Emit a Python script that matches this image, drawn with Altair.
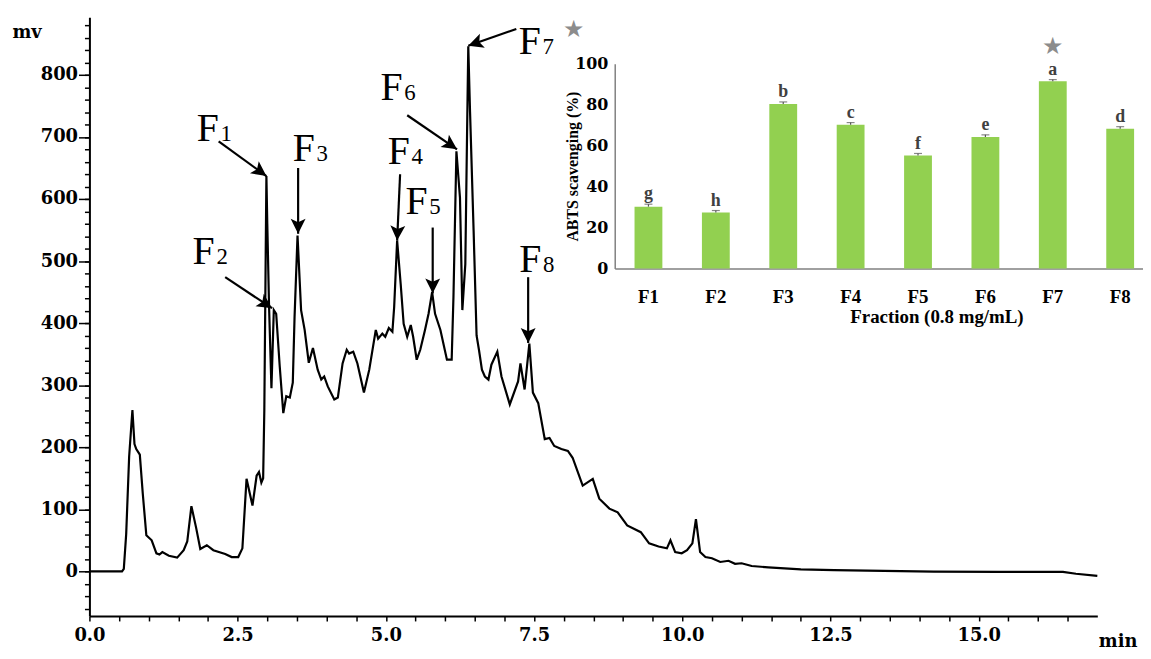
import math
import altair as alt
import pandas as pd

# ---------------- chromatogram (main plot) ----------------
time_min = [0, 0.55, 0.58, 0.62, 0.67, 0.725, 0.76, 0.79, 0.85, 0.90, 0.96, 1.05, 1.13, 1.18, 1.23,
            1.34, 1.48, 1.59, 1.65, 1.72, 1.80, 1.87, 1.98, 2.09, 2.29, 2.40, 2.51, 2.58, 2.65, 2.75,
            2.82, 2.86, 2.90, 2.93, 2.95, 2.985, 3.00, 3.03, 3.07, 3.11, 3.15, 3.21, 3.27, 3.32, 3.38,
            3.43, 3.46, 3.51, 3.57, 3.63, 3.70, 3.77, 3.85, 3.91, 3.96, 4.02, 4.13, 4.19, 4.27, 4.34,
            4.38, 4.45, 4.52, 4.63, 4.72, 4.83, 4.87, 4.94, 4.99, 5.05, 5.11, 5.14, 5.19, 5.25, 5.30,
            5.36, 5.42, 5.46, 5.52, 5.58, 5.66, 5.72, 5.78, 5.83, 5.92, 6.03, 6.11, 6.14, 6.19, 6.25,
            6.29, 6.34, 6.37, 6.39, 6.42, 6.48, 6.53, 6.57, 6.62, 6.67, 6.73, 6.78, 6.88, 6.95, 7.09,
            7.23, 7.27, 7.34, 7.42, 7.48, 7.57, 7.68, 7.76, 7.84, 7.96, 8.07, 8.15, 8.32, 8.49, 8.60,
            8.77, 8.91, 9.07, 9.30, 9.44, 9.60, 9.74, 9.80, 9.88, 9.99, 10.08, 10.17, 10.23, 10.30,
            10.39, 10.50, 10.64, 10.78, 10.89, 11.00, 11.17, 11.45, 12.00, 12.56, 13.12, 14.24, 15.35,
            16.42, 16.64, 17.0]
signal_mv = [0, 0, 4, 60, 185, 260, 205, 197, 188, 125, 58, 50, 29, 27, 31,
             25, 22, 34, 48, 105, 70, 36, 42, 34, 28, 23, 23, 37, 149, 106,
             154, 160, 143, 150, 260, 637, 560, 426, 295, 421, 415, 330, 255, 282, 280,
             304, 410, 541, 421, 389, 336, 360, 325, 309, 314, 298, 277, 280, 335, 357,
             351, 354, 335, 288, 325, 389, 375, 383, 378, 392, 386, 426, 533, 463, 399,
             378, 397, 378, 341, 357, 389, 415, 450, 415, 389, 341, 341, 442, 677, 602,
             421, 495, 709, 846, 740, 549, 380, 357, 325, 314, 309, 333, 354, 314, 269,
             306, 335, 293, 367, 288, 271, 213, 215, 202, 197, 194, 183, 138, 149, 117,
             101, 95, 74, 63, 45, 40, 37, 50, 31, 29, 34, 45, 84, 31,
             23, 21, 15, 17, 12, 13, 8.5, 6.4, 3.2, 2, 1, -0.5, -1,
             -1, -4, -7.5]

# peak annotations
peak_letter = ["F"] * 8
peak_digit = ["1", "2", "3", "4", "5", "6", "7", "8"]
label_t = [1.81, 1.74, 3.43, 5.03, 5.33, 4.91, 7.24, 7.25]
label_mv = [693, 496, 661, 656, 576, 760, 834, 482]
arrow_t0 = [2.18, 2.29, 3.52, 5.24, 5.79, 5.36, 7.20, 7.40]
arrow_mv0 = [693, 474, 650, 640, 554, 735, 874, 474]
arrow_t1 = [2.985, 3.08, 3.52, 5.19, 5.79, 6.20, 6.39, 7.40]
arrow_mv1 = [637, 424, 544, 533, 448, 680, 847, 368]
star_t = [8.17]
star_mv = [872]

# axis ticks
x_ticks = [i * 0.5 for i in range(0, 34)]
y_major = [0, 100, 200, 300, 400, 500, 600, 700, 800]
y_minor = list(range(-60, 881, 20))

# ---------------- ABTS inset ----------------
fractions = ["F1", "F2", "F3", "F4", "F5", "F6", "F7", "F8"]
abts = [30.2, 27.3, 80.4, 70.3, 55.2, 64.3, 91.5, 68.3]
abts_err = [1.2, 1.0, 1.0, 1.0, 1.0, 1.0, 0.8, 1.0]
sig_letters = ["g", "h", "b", "c", "f", "e", "a", "d"]
best_fraction = ["F7"]
abts_ticks = [0, 20, 40, 60, 80, 100]

# ---------------- layout ----------------
W, H = 1015, 603
X_DOM = [0, 17]
Y_DOM = [-72, 893]
SERIF = "Liberation Serif"
WIDE = "DejaVu Serif"

px_t = W / (X_DOM[1] - X_DOM[0])
px_mv = H / (Y_DOM[1] - Y_DOM[0])

trace_df = pd.DataFrame({"t": time_min, "mv": signal_mv})
angles = []
for a, b, c, d in zip(arrow_t0, arrow_mv0, arrow_t1, arrow_mv1):
    dx = (c - a) * px_t
    dy = -(d - b) * px_mv
    angles.append(math.degrees(math.atan2(dx, -dy)) % 360)
ann_df = pd.DataFrame({
    "letter": peak_letter, "digit": peak_digit, "lt": label_t, "lmv": label_mv,
    "t0": arrow_t0, "mv0": arrow_mv0, "t1": arrow_t1, "mv1": arrow_mv1, "ang": angles,
})
star_df = pd.DataFrame({"t": star_t, "mv": star_mv, "s": ["★"]})

xs = alt.Scale(domain=X_DOM, nice=False, zero=False)
ys = alt.Scale(domain=Y_DOM, nice=False, zero=False)

x_axis = alt.Axis(
    values=x_ticks,
    labelExpr="datum.value % 2.5 === 0 ? format(datum.value, '.1f') : ''",
    tickSize=5, tickColor="black", tickWidth=1.5, domainColor="black", domainWidth=2,
    labelFont=WIDE, labelFontSize=18, labelFontWeight="bold", labelColor="black",
    labelPadding=6, labelOverlap=False, labelFlush=False, grid=False,
    title="min", titleX=1016, titleY=31, titleAlign="left", titleBaseline="alphabetic",
    titleFont=WIDE, titleFontSize=18, titleFontWeight="bold", titleColor="black",
    orient="bottom",
)
y_axis = alt.Axis(
    values=y_major, format="d",
    tickSize=11, tickColor="black", tickWidth=1.5, domainColor="black", domainWidth=2,
    labelFont=WIDE, labelFontSize=18, labelFontWeight="bold", labelColor="black",
    labelPadding=1, labelOverlap=False, labelFlush=False, grid=False,
    title="mv", titleAngle=0, titleX=-78, titleY=20, titleAlign="left", titleBaseline="alphabetic",
    titleFont=WIDE, titleFontSize=18, titleFontWeight="bold", titleColor="black",
    orient="left",
)
y_minor_axis = alt.Axis(
    values=y_minor, tickSize=5, tickColor="black", tickWidth=1.5, domain=False,
    labels=False, grid=False, title=None, orient="left",
)

trace = alt.Chart(trace_df).mark_line(color="black", strokeWidth=2.2).encode(
    x=alt.X("t:Q", scale=xs, axis=x_axis),
    y=alt.Y("mv:Q", scale=ys, axis=y_axis),
)
minor = alt.Chart(trace_df).mark_line(opacity=0).encode(
    x=alt.X("t:Q", scale=xs, axis=None),
    y=alt.Y("mv:Q", scale=ys, axis=y_minor_axis),
)
arrow_lines = alt.Chart(ann_df).mark_rule(color="black", strokeWidth=2.2).encode(
    x=alt.X("t0:Q", scale=xs, axis=None), y=alt.Y("mv0:Q", scale=ys, axis=None),
    x2="t1:Q", y2="mv1:Q",
)
arrow_heads = alt.Chart(ann_df).mark_point(
    shape="M0,0 L-0.5,1 L0,0.78 L0.5,1 Z", size=900, filled=True, color="black", opacity=1,
).encode(
    x=alt.X("t1:Q", scale=xs, axis=None), y=alt.Y("mv1:Q", scale=ys, axis=None),
    angle=alt.Angle("ang:Q", scale=None),
)
f_text = alt.Chart(ann_df).mark_text(
    font=SERIF, fontSize=40, align="left", baseline="alphabetic", color="black",
).encode(
    x=alt.X("lt:Q", scale=xs, axis=None), y=alt.Y("lmv:Q", scale=ys, axis=None), text="letter:N",
)
d_text = alt.Chart(ann_df).mark_text(
    font=SERIF, fontSize=23, align="left", baseline="alphabetic", color="black", dx=24,
).encode(
    x=alt.X("lt:Q", scale=xs, axis=None), y=alt.Y("lmv:Q", scale=ys, axis=None), text="digit:N",
)
star_main = alt.Chart(star_df).mark_text(
    font="DejaVu Sans", fontSize=24, align="center", baseline="middle", color="#8c8c8c",
).encode(
    x=alt.X("t:Q", scale=xs, axis=None), y=alt.Y("mv:Q", scale=ys, axis=None), text="s:N",
)
main = alt.layer(trace, minor, arrow_lines, arrow_heads, f_text, d_text, star_main).resolve_axis(
    x="independent", y="independent"
)

# ---------------- inset ----------------
inset_df = pd.DataFrame({
    "frac": fractions, "abts": abts,
    "hi": [v + e for v, e in zip(abts, abts_err)],
    "lab": sig_letters,
    "star": ["★" if f in best_fraction else "" for f in fractions],
})
IN_X = [529, 1061]
IN_Y = [253, 47]
bx = alt.Scale(domain=fractions, range=IN_X, paddingInner=0.587, paddingOuter=0.213, align=0.69)
by = alt.Scale(domain=[0, 100], range=IN_Y, nice=False, zero=True)

bx_axis = alt.Axis(
    orient="bottom", offset=IN_Y[0] - H, ticks=False, domainColor="#808080", domainWidth=1.5,
    labelFont=SERIF, labelFontSize=19, labelFontWeight="bold", labelColor="black",
    labelAngle=0, labelPadding=19, grid=False,
    title="Fraction (0.8 mg/mL)", titleFont=SERIF, titleFontSize=19, titleFontWeight="bold",
    titleColor="black", titleX=853, titleY=54, titleAlign="center", titleBaseline="alphabetic",
)
by_axis = alt.Axis(
    orient="left", offset=-IN_X[0], ticks=False, domainColor="#808080", domainWidth=1.5,
    values=abts_ticks,
    labelFont=WIDE, labelFontSize=16, labelFontWeight="bold", labelColor="black",
    labelPadding=7, grid=False,
    title="ABTS scavenging (%)", titleFont=SERIF, titleFontSize=16, titleFontWeight="bold",
    titleColor="black", titleAngle=-90, titleX=-42, titleY=(IN_Y[0] + IN_Y[1]) / 2,
    titleAlign="center", titleBaseline="middle",
)

bars = alt.Chart(inset_df).mark_bar(color="#92D050").encode(
    x=alt.X("frac:N", scale=bx, axis=bx_axis, sort=fractions),
    y=alt.Y("abts:Q", scale=by, axis=by_axis),
)
err_rule = alt.Chart(inset_df).mark_rule(color="#555555", strokeWidth=1.2).encode(
    x=alt.X("frac:N", scale=bx, axis=None, sort=fractions),
    y=alt.Y("abts:Q", scale=by, axis=None), y2="hi:Q",
)
err_cap = alt.Chart(inset_df).mark_tick(color="#555555", size=8, thickness=1.2).encode(
    x=alt.X("frac:N", scale=bx, axis=None, sort=fractions),
    y=alt.Y("hi:Q", scale=by, axis=None),
)
letters = alt.Chart(inset_df).mark_text(
    font=SERIF, fontSize=18, fontWeight="bold", color="#404040", baseline="alphabetic", dy=-5,
).encode(
    x=alt.X("frac:N", scale=bx, axis=None, sort=fractions),
    y=alt.Y("hi:Q", scale=by, axis=None), text="lab:N",
)
star_inset = alt.Chart(inset_df).mark_text(
    font="DejaVu Sans", fontSize=24, color="#8c8c8c", baseline="middle", dy=-33,
).encode(
    x=alt.X("frac:N", scale=bx, axis=None, sort=fractions),
    y=alt.Y("hi:Q", scale=by, axis=None), text="star:N",
)
inset = alt.layer(bars, err_rule, err_cap, letters, star_inset).resolve_axis(
    x="independent", y="independent"
)

chart = alt.layer(main, inset).resolve_scale(
    x="independent", y="independent"
).resolve_axis(
    x="independent", y="independent"
).properties(
    width=W, height=H,
    autosize=alt.AutoSizeParams(type="none"),
    padding={"left": 82, "top": 7, "right": 46, "bottom": 33},
).configure_view(stroke=None)

chart.save("out.html", embed_options={"renderer": "svg", "actions": False})
